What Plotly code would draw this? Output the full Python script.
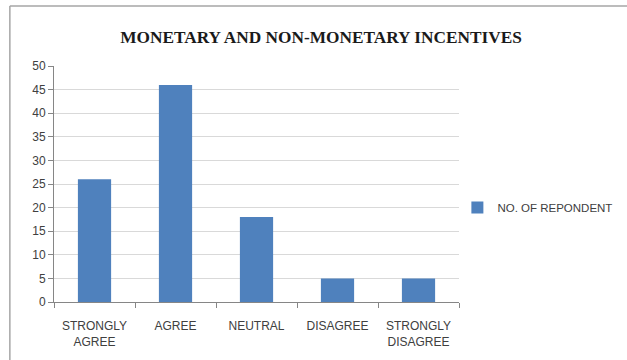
import plotly.graph_objects as go

categories = ["STRONGLY<br>AGREE", "AGREE", "NEUTRAL", "DISAGREE", "STRONGLY<br>DISAGREE"]
respondents = [26, 46, 18, 5, 5]
series_name = "NO. OF REPONDENT"
title_text = "MONETARY AND NON-MONETARY INCENTIVES"
y_ticks = list(range(0, 51, 5))

axis_grey = "#868686"
grid_grey = "#d9d9d9"
text_grey = "#404040"

fig = go.Figure(
    go.Bar(
        x=categories,
        y=respondents,
        name=series_name,
        marker=dict(color="#4f81bd", line=dict(width=0)),
        showlegend=True,
    )
)

fig.update_layout(
    width=627,
    height=360,
    margin=dict(l=54, r=168, t=66, b=58, autoexpand=False),
    paper_bgcolor="white",
    plot_bgcolor="white",
    bargap=0.59,
    font=dict(family="Liberation Sans, Arial, sans-serif", size=12, color=text_grey),
    title=dict(
        text="<b>" + title_text + "</b>",
        font=dict(family="Liberation Serif, Times New Roman, serif", size=17.3, color="#1a1a1a"),
        x=0.512,
        xanchor="center",
        xref="container",
        y=0.897,
        yanchor="middle",
    ),
    legend=dict(
        x=0.996,
        xanchor="left",
        y=0.40,
        yanchor="middle",
        font=dict(size=11.5, color=text_grey),
        bgcolor="rgba(0,0,0,0)",
        itemwidth=30,
    ),
    xaxis=dict(
        showline=True,
        linecolor=axis_grey,
        linewidth=1,
        ticks="outside",
        tickson="boundaries",
        ticklen=5,
        tickcolor=axis_grey,
        showgrid=False,
        tickfont=dict(size=12, color=text_grey),
        ticklabelstandoff=13,
        fixedrange=True,
    ),
    yaxis=dict(
        range=[0, 50],
        tickvals=y_ticks,
        showline=True,
        linecolor=axis_grey,
        linewidth=1,
        ticks="outside",
        ticklen=5,
        tickcolor=axis_grey,
        showgrid=True,
        gridcolor=grid_grey,
        gridwidth=1,
        zeroline=False,
        tickfont=dict(size=12, color=text_grey),
        fixedrange=True,
    ),
    shapes=[
        # outer chart frame (top and left edges)
        dict(type="line", xref="paper", yref="paper", x0=-0.109, x1=1.45, y0=1.254, y1=1.254,
             line=dict(color="#a6a6a6", width=1.5)),
        dict(type="line", xref="paper", yref="paper", x0=-0.109, x1=-0.109, y0=1.254, y1=-0.30,
             line=dict(color="#a6a6a6", width=1.5)),
    ],
)

fig.write_html("out.html")
